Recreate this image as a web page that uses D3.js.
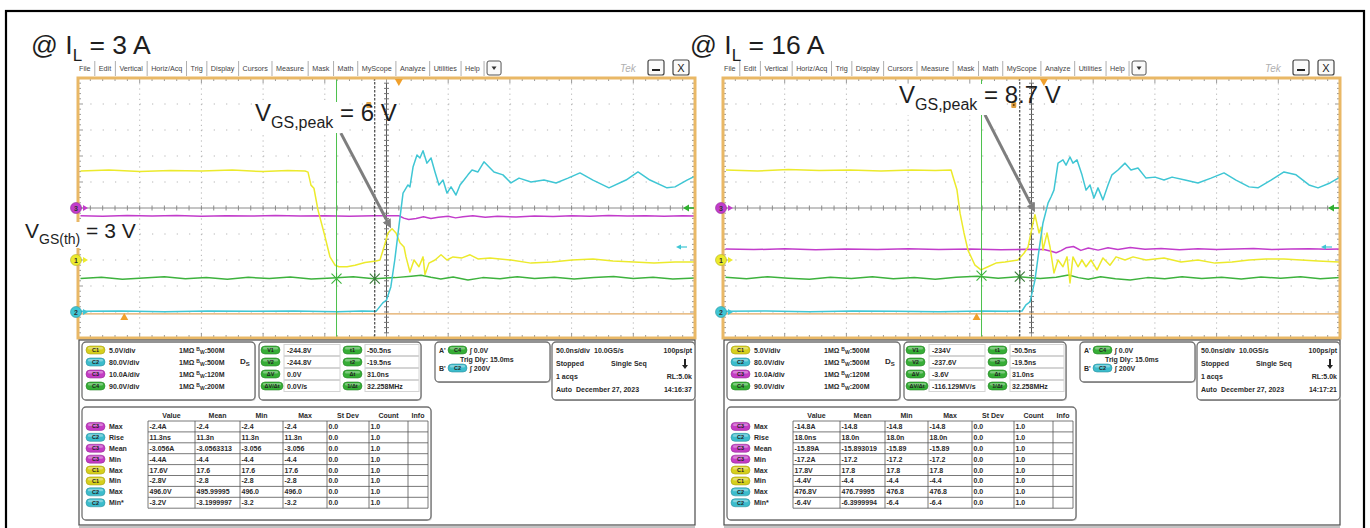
<!DOCTYPE html>
<html><head><meta charset="utf-8">
<script src="https://cdn.jsdelivr.net/npm/d3@7"></script>
<style>
body{margin:0;background:#fff;}
svg{display:block;font-family:"Liberation Sans",Arial,Helvetica,sans-serif;}
</style></head>
<body><svg id="c" width="1370" height="528"></svg>
<script>
// ================= DATA =================
const panelTitles = ["3 A", "16 A"];
const peakLabels = ["6 V", "8.7 V"];
const thresholdLabel = "3 V";
const menuItems = ["File","Edit","Vertical","Horiz/Acq","Trig","Display","Cursors","Measure","Mask","Math","MyScope","Analyze","Utilities","Help"];

const timeDomainNs = [-260, 240];          // 10 divisions x 50 ns/div
const channelNames = ["C1","C2","C3","C4"];
const channelScale = [5, 80, 10, 90];       // units per division
const channelOffsetDiv = [-2, -4, 0, 0];    // ground marker position (divisions from centre)
const channelVdiv = ["5.0V/div","80.0V/div","10.0A/div","90.0V/div"];
const channelBw = ["500M","500M","120M","200M"];

const cursorTimesNs = [-50.5, -19.5];
const cursorV1 = [-244.8, -234];
const cursorV2 = [-244.8, -237.6];
const trigPosNs = 0;
const bTrigMarkNs = [-222.5, -54.5];
const c2TrigLevel = 200;   // V
const c4TrigLevel = 0;     // V
const c2RefLevel = -6;     // V (orange reference line)
const peakArrowFrom = [[-47, 24.4], [-47.7, 27.9]];  // [ns, C1 volts]
const peakArrowTo = [[-6.4, 6.1], [-7.2, 9.2]];

// traces: [time ns, value]
const yellowL = [[-258,17.1],[-235,17.3],[-210,17.0],[-185,17.2],[-160,17.1],[-135,17.3],[-110,17.0],[-90,17.2],[-76,17.1],
 [-73.6,16.9],[-71.2,14.4],[-68.8,13.8],[-65.5,9.6],[-60.6,5.2],[-55.8,0.6],[-51.7,-1.0],[-48.5,-1.3],[-42,-1.3],[-35.5,-1.0],
 [-27.4,-0.5],[-18.5,-0.2],[-15.3,0],[-12,2.5],[-8.8,5.2],[-5.5,6.0],[-2.3,5.2],[0.9,3.3],[4.2,2.5],[5.8,0.6],[9,-2.3],[12.3,0],
 [16.3,-1.3],[19.6,0.6],[21.2,-2.8],[24.4,-0.6],[29.3,0],[34.2,1.0],[39,0],[43.9,0.6],[51.2,0.4],[57.7,1.0],[64.1,0.2],[73.9,0.4],
 [90.9,0],[107.1,-0.6],[124.1,-0.4],[140.3,0],[157.3,0.2],[173.5,-0.2],[190.6,-0.4],[206.8,-0.6],[223.8,-0.4],[240,-0.4]];
const cyanL = [[-258,2],[-225,3],[-190,1],[-155,3],[-120,2],[-85,3],[-50,1],[-30,3],[-18.5,2],[-13,28],[-10,37],[-6.5,77],
 [-3.3,160],[0,262],[3.4,366],[7.4,391],[9,385],[11.5,446],[14.7,483],[17.1,474],[19.6,496],[22.8,458],[26.1,474],[29.3,431],
 [32.5,391],[35.8,406],[39,366],[42.3,385],[46.3,360],[49.6,391],[52.8,406],[56,422],[59.3,437],[64.1,431],[69,462],[73.9,443],
 [77.1,431],[84.4,422],[90.9,397],[97.4,412],[107.1,400],[117.6,406],[127.4,397],[137.1,412],[146.8,428],[157.3,406],[170.3,382],
 [184.1,406],[193.8,431],[203.5,406],[217.3,382],[223.8,385],[233.5,406],[240,418]];
const magentaL = [[-258,-3.0],[-240,-3.2],[-220,-2.9],[-200,-3.1],[-180,-2.9],[-160,-3.2],[-140,-3.0],[-120,-3.1],[-100,-2.9],
 [-80,-3.1],[-60,-3.0],[-40,-3.2],[-20,-3.0],[0,-3.0],[4,-3.9],[8,-4.4],[14,-4.0],[20,-3.4],[26,-4.0],[32,-3.6],[40,-3.2],[46,-3.8],
 [52,-3.4],[60,-3.0],[70,-3.6],[80,-3.2],[95,-3.5],[110,-3.1],[125,-3.3],[140,-3.0],[155,-3.2],[170,-2.9],[185,-3.1],[200,-3.0],
 [215,-3.2],[230,-3.0],[240,-3.1]];
const greenL = [[-258,-244],[-241,-240],[-224,-247],[-207,-242],[-190,-238],[-173,-245],[-156,-241],[-139,-247],[-122,-240],
 [-105,-244],[-88,-239],[-71,-246],[-54,-242],[-37,-238],[-20,-245],[-3,-241],[10,-236],[18,-233],[26,-240],[34,-246],[44,-239],
 [56,-249],[68,-241],[82,-245],[96,-238],[110,-244],[126,-240],[142,-246],[158,-241],[174,-237],[190,-244],[206,-240],[222,-246],[240,-242]];

const yellowR = [[-257.6,17.3],[-232,17.1],[-207,17.4],[-182,17.2],[-157,17.3],[-132,17.1],[-107,17.3],[-88,17.2],[-75.2,17.3],
 [-73.6,16.0],[-70.4,13.5],[-67.9,9.0],[-64.7,5.2],[-61.5,1.9],[-55.8,-1.0],[-50.9,-1.9],[-45.3,-1.3],[-38.8,-0.6],[-31.5,-0.4],
 [-21,0],[-16.1,1.3],[-12.8,2.5],[-8.8,7.1],[-7.2,8.7],[-3.9,5.2],[-2.3,6.3],[-0.7,1.9],[2.6,5.2],[5,2.5],[8.2,-2.5],[11.5,0],
 [15.5,-1.3],[18.8,0.6],[21.2,-4.4],[23.6,0.6],[27.7,-1.3],[30.9,0],[34.2,-1.3],[38.2,0],[43.1,-1.9],[47.9,0.4],[53.6,-1.0],
 [58.5,0.6],[65.8,0],[72.3,0.6],[82.8,0],[97.4,0.4],[111.2,-0.4],[124.9,0],[138.7,-0.6],[152.5,-0.4],[166.3,0],[180,0.2],
 [194.6,0.2],[208.4,0],[222.2,-0.2],[239.2,-0.4]];
const cyanR = [[-257.6,2],[-225,3],[-190,1],[-155,3],[-120,2],[-85,1],[-50,3],[-30,2],[-17.7,3],[-14.5,22],[-11.2,31],[-7.2,98],
 [-3.9,191],[-0.7,274],[3.4,335],[5.8,354],[8.2,375],[11.5,458],[15.5,468],[18,452],[21.2,477],[23.6,458],[26.9,468],[30.9,422],
 [34.2,375],[37.4,391],[40.6,351],[43.9,382],[47.9,345],[52,391],[55.2,422],[60.1,437],[65.8,458],[70.6,437],[76.3,443],[82.8,412],
 [90.1,415],[97.4,406],[103.9,415],[114.4,406],[124.9,397],[135.5,412],[146,428],[155.7,406],[166.3,385],[173.5,382],[184.1,406],
 [194.6,431],[204.4,422],[214.9,391],[222.2,382],[231.9,397],[240,415]];
const magentaR = [[-258,-15.8],[-235,-16.0],[-210,-15.7],[-185,-16.1],[-160,-15.8],[-135,-16.0],[-110,-15.7],[-85,-16.0],[-60,-15.8],
 [-35,-16.1],[-15,-15.9],[0,-16.0],[6,-16.6],[10,-17.2],[14,-16.4],[18,-15.3],[24,-14.8],[30,-16.3],[36,-15.4],[44,-16.2],[52,-15.3],
 [60,-16.0],[70,-15.2],[82,-15.9],[95,-15.6],[110,-16.1],[125,-15.7],[140,-16.0],[155,-15.8],[170,-15.6],[185,-16.0],[200,-15.8],
 [215,-15.7],[230,-15.9],[240,-15.8]];
const greenR = [[-258,-240],[-241,-245],[-224,-238],[-207,-243],[-190,-247],[-173,-240],[-156,-244],[-139,-238],[-122,-245],
 [-105,-241],[-88,-247],[-71,-240],[-54,-236],[-37,-243],[-20,-238],[-3,-244],[10,-240],[20,-232],[28,-241],[36,-247],[46,-238],
 [58,-245],[70,-249],[84,-241],[98,-245],[112,-238],[128,-244],[144,-240],[160,-246],[176,-239],[192,-243],[208,-238],[224,-245],[240,-241]];

const cursorLabelsV = ["V1","V2","ΔV","ΔV/Δt"];
const cursorLabelsT = ["t1","t2","Δt","1/Δt"];
const cursorValsV = [["-244.8V","-244.8V","0.0V","0.0V/s"], ["-234V","-237.6V","-3.6V","-116.129MV/s"]];
const cursorValsT = [["-50.5ns","-19.5ns","31.0ns","32.258MHz"], ["-50.5ns","-19.5ns","31.0ns","32.258MHz"]];
const timestamps = ["14:16:37", "14:17:21"];

const measHeaders = ["Value","Mean","Min","Max","St Dev","Count","Info"];
const measRows = [["C3","Max"],["C2","Rise"],["C3","Mean"],["C3","Min"],["C1","Max"],["C1","Min"],["C2","Max"],["C2","Min*"]];
const measLeft = [
 ["-2.4A","-2.4","-2.4","-2.4","0.0","1.0",""],
 ["11.3ns","11.3n","11.3n","11.3n","0.0","1.0",""],
 ["-3.056A","-3.0563313","-3.056","-3.056","0.0","1.0",""],
 ["-4.4A","-4.4","-4.4","-4.4","0.0","1.0",""],
 ["17.6V","17.6","17.6","17.6","0.0","1.0",""],
 ["-2.8V","-2.8","-2.8","-2.8","0.0","1.0",""],
 ["496.0V","495.99995","496.0","496.0","0.0","1.0",""],
 ["-3.2V","-3.1999997","-3.2","-3.2","0.0","1.0",""]];
const measRight = [
 ["-14.8A","-14.8","-14.8","-14.8","0.0","1.0",""],
 ["18.0ns","18.0n","18.0n","18.0n","0.0","1.0",""],
 ["-15.89A","-15.893019","-15.89","-15.89","0.0","1.0",""],
 ["-17.2A","-17.2","-17.2","-17.2","0.0","1.0",""],
 ["17.8V","17.8","17.8","17.8","0.0","1.0",""],
 ["-4.4V","-4.4","-4.4","-4.4","0.0","1.0",""],
 ["476.8V","476.79995","476.8","476.8","0.0","1.0",""],
 ["-6.4V","-6.3999994","-6.4","-6.4","0.0","1.0",""]];

// ================= STYLE / LAYOUT =================
const COL = {C1:"#ecea2c", C2:"#3fc6d4", C3:"#c23ccb", C4:"#3db23d"};
const PILL = {C1:"#d6cf1c", C2:"#3cbccc", C3:"#c43cc4", C4:"#36ad36", V:"#36ad36"};
const ORANGE = "#e9b866";
const PX0 = 78, PX1 = 695, PY0 = 78, PY1 = 338;
const panelDx = [0, 645];
const titleX = [31, 690];
const peakTextPos = [[255, 121], [899, 103]];
const svg = d3.select("#c");

// outer frame
svg.append("rect").attr("x",6).attr("y",11).attr("width",1358).attr("height",540)
  .attr("fill","none").attr("stroke","#000").attr("stroke-width",2.2);

function pill(g, x, y, label, color, w) {
  w = w || 19; const h = 8;
  g.append("rect").attr("x",x).attr("y",y-h/2).attr("width",w).attr("height",h).attr("rx",h/2)
    .attr("fill",color).attr("stroke",d3.color(color).darker(0.7)).attr("stroke-width",0.6);
  g.append("rect").attr("x",x+2).attr("y",y-h/2+1).attr("width",w-4).attr("height",2.5).attr("rx",1.2)
    .attr("fill","#fff").attr("opacity",0.35);
  g.append("text").attr("x",x+w/2).attr("y",y+2).attr("text-anchor","middle").attr("font-size",5.5)
    .attr("font-weight","bold").attr("fill","#222").text(label);
}
function t(g, x, y, s, size, opts) {
  opts = opts || {};
  return g.append("text").attr("x",x).attr("y",y).attr("font-size",size||7)
    .attr("font-weight",opts.w||"bold").attr("fill",opts.fill||"#2a2a2a")
    .attr("text-anchor",opts.anchor||"start").text(s);
}
function box(g, x, y, w, h) {
  g.append("rect").attr("x",x+1).attr("y",y+1).attr("width",w).attr("height",h).attr("rx",4).attr("fill","#cfcfcf");
  g.append("rect").attr("x",x).attr("y",y).attr("width",w).attr("height",h).attr("rx",4)
    .attr("fill","#fff").attr("stroke","#707070").attr("stroke-width",1.3);
}

function drawPanel(i) {
  const dx = panelDx[i];
  const g = svg.append("g");
  const x = d3.scaleLinear().domain(timeDomainNs).range([PX0+dx, PX1+dx]);
  const yDiv = d3.scaleLinear().domain([-5,5]).range([PY1, PY0]);
  const yCh = c => v => yDiv(v/channelScale[c] + channelOffsetDiv[c]);
  const W = PX1-PX0, H = PY1-PY0;
  const xl = PX0+dx, xr = PX1+dx;

  // ---- title ----
  const tt = svg.append("text").attr("x",titleX[i]).attr("y",54).attr("font-size",26.5).attr("fill","#1e1e1e");
  tt.append("tspan").text("@ I");
  tt.append("tspan").attr("font-size",17).attr("dy",7).text("L");
  tt.append("tspan").attr("dy",-7).text(" = " + panelTitles[i]);

  // ---- menu bar ----
  let mx = xl - 3;
  menuItems.forEach((m, k) => {
    const tx = g.append("text").attr("x",mx+4).attr("y",71).attr("font-size",7.2).attr("fill","#444").text(m);
    const w = tx.node().getComputedTextLength();
    mx += w + 8.2;
    g.append("line").attr("x1",mx).attr("x2",mx).attr("y1",61).attr("y2",76).attr("stroke","#999").attr("stroke-width",0.8);
  });
  g.append("rect").attr("x",mx+3).attr("y",61).attr("width",14).attr("height",14).attr("rx",2)
    .attr("fill","#fafafa").attr("stroke","#555").attr("stroke-width",1);
  g.append("path").attr("d",`M${mx+7.5},66.5 L${mx+12.5},66.5 L${mx+10},70 Z`).attr("fill","#333");
  t(g, 620+dx, 72, "Tek", 10, {w:"normal", fill:"#b0b0b0"}).attr("font-style","italic");
  g.append("rect").attr("x",648+dx).attr("y",60).attr("width",16).attr("height",15).attr("rx",2)
    .attr("fill","#fafafa").attr("stroke","#444").attr("stroke-width",1.2);
  g.append("line").attr("x1",652+dx).attr("x2",660+dx).attr("y1",70).attr("y2",70).attr("stroke","#222").attr("stroke-width",2);
  g.append("rect").attr("x",673+dx).attr("y",60).attr("width",16).attr("height",15).attr("rx",2)
    .attr("fill","#fafafa").attr("stroke","#444").attr("stroke-width",1.2);
  t(g, 681+dx, 72, "X", 11, {w:"normal", anchor:"middle", fill:"#222"});

  // ---- graticule ----
  const gr = g.append("g");
  for (let k = 1; k < 10; k++) {
    if (k === 5) continue;
    gr.append("line").attr("x1",xl+k*W/10).attr("x2",xl+k*W/10).attr("y1",PY0).attr("y2",PY1)
      .attr("stroke","#b4b4b4").attr("stroke-dasharray","1.2,4").attr("stroke-width",1);
    gr.append("line").attr("x1",xl).attr("x2",xr).attr("y1",PY0+k*H/10).attr("y2",PY0+k*H/10)
      .attr("stroke","#b4b4b4").attr("stroke-dasharray","1.2,11.14").attr("stroke-width",1);
  }
  const cy = PY0+H/2, cx = xl+W/2;
  gr.append("line").attr("x1",xl).attr("x2",xr).attr("y1",cy).attr("y2",cy).attr("stroke","#8a8a8a").attr("stroke-width",1);
  gr.append("line").attr("x1",cx).attr("x2",cx).attr("y1",PY0).attr("y2",PY1).attr("stroke","#555").attr("stroke-width",1);
  for (let k = 1; k < 50; k++) {
    const xx = xl + k*W/50, yy = PY0 + k*H/50;
    gr.append("line").attr("x1",xx).attr("x2",xx).attr("y1",cy-2.5).attr("y2",cy+2.5).attr("stroke","#8a8a8a");
    gr.append("line").attr("x1",cx-2.5).attr("x2",cx+2.5).attr("y1",yy).attr("y2",yy).attr("stroke","#777");
    gr.append("line").attr("x1",xx).attr("x2",xx).attr("y1",PY0).attr("y2",PY0+(k%5?3:5)).attr("stroke","#999");
    gr.append("line").attr("x1",xx).attr("x2",xx).attr("y1",PY1).attr("y2",PY1-(k%5?3:5)).attr("stroke","#999");
    gr.append("line").attr("x1",xl).attr("x2",xl+(k%5?3:5)).attr("y1",yy).attr("y2",yy).attr("stroke","#999");
    gr.append("line").attr("x1",xr).attr("x2",xr-(k%5?3:5)).attr("y1",yy).attr("y2",yy).attr("stroke","#999");
  }

  // ---- clip ----
  const cid = "clip"+i;
  svg.append("clipPath").attr("id",cid).append("rect").attr("x",xl).attr("y",PY0).attr("width",W).attr("height",H);
  const tr = g.append("g").attr("clip-path",`url(#${cid})`);

  // orange reference line
  tr.append("line").attr("x1",xl).attr("x2",xr).attr("y1",yCh(1)(c2RefLevel)).attr("y2",yCh(1)(c2RefLevel))
    .attr("stroke","#e2a860").attr("stroke-width",1.2);

  const traces = i === 0
    ? [[greenL,3],[magentaL,2],[yellowL,0],[cyanL,1]]
    : [[greenR,3],[magentaR,2],[yellowR,0],[cyanR,1]];
  traces.forEach(([data, c]) => {
    const line = d3.line().x(d => x(d[0])).y(d => yCh(c)(d[1]));
    tr.append("path").attr("d",line(data)).attr("fill","none").attr("stroke",COL[channelNames[c]])
      .attr("stroke-width",1.5).attr("stroke-linejoin","round");
  });

  // cursors
  tr.append("line").attr("x1",x(cursorTimesNs[0])).attr("x2",x(cursorTimesNs[0])).attr("y1",PY0).attr("y2",PY1)
    .attr("stroke","#4cc04c").attr("stroke-width",1);
  tr.append("line").attr("x1",x(cursorTimesNs[1])).attr("x2",x(cursorTimesNs[1])).attr("y1",PY0).attr("y2",PY1)
    .attr("stroke","#222").attr("stroke-width",1).attr("stroke-dasharray","2.5,1.5");
  [[cursorTimesNs[0], cursorV1[i], "#3cb43c"], [cursorTimesNs[1], cursorV2[i], "#3a7a3a"]].forEach(([tt2, v, col]) => {
    const px = x(tt2), py = yCh(3)(v);
    tr.append("path").attr("d",`M${px-5},${py-5}L${px+5},${py+5}M${px-5},${py+5}L${px+5},${py-5}M${px},${py-6}L${px},${py+6}`)
      .attr("stroke",col).attr("stroke-width",1.1);
  });

  // frame
  g.append("rect").attr("x",xl).attr("y",PY0).attr("width",W).attr("height",H).attr("fill","none")
    .attr("stroke",ORANGE).attr("stroke-width",3);

  // trigger position ▼
  const tp = x(trigPosNs);
  g.append("path").attr("d",`M${tp-4},${PY0+1}L${tp+4},${PY0+1}L${tp},${PY0+8}Z`).attr("fill","#f0a02c");
  // B trigger mark ▲
  const bp = x(bTrigMarkNs[i]);
  g.append("path").attr("d",`M${bp-4},320L${bp+4},320L${bp},313Z`).attr("fill","#f0a02c");
  // cursor handles a / b
  cursorTimesNs.forEach((ct, k) => {
    const hx = x(ct) - 6;
    g.append("rect").attr("x",hx-2.5).attr("y",102).attr("width",5).attr("height",6).attr("rx",1).attr("fill","#e0a040");
    g.append("circle").attr("cx",hx).attr("cy",105).attr("r",1).attr("fill","#6a4010");
  });

  // channel ground markers (left)
  [[2,"3"],[0,"1"],[1,"2"]].forEach(([c, lab]) => {
    const yy = yCh(c)(0), col = COL[channelNames[c]];
    g.append("path").attr("d",`M${xl+5},${yy-3}L${xl+10},${yy}L${xl+5},${yy+3}Z`).attr("fill",col);
    g.append("circle").attr("cx",xl-2).attr("cy",yy).attr("r",5.5).attr("fill",col).attr("stroke",d3.color(col).darker(0.8)).attr("stroke-width",0.6);
    t(g, xl-2, yy+2.5, lab, 7, {anchor:"middle", fill:"#333"});
  });
  // trigger level markers (right)
  const gy = yCh(3)(c4TrigLevel);
  g.append("path").attr("d",`M${xr-12},${gy}L${xr-6},${gy-3.5}L${xr-6},${gy+3.5}Z`).attr("fill","#2fb02f");
  g.append("line").attr("x1",xr-6).attr("x2",xr-1).attr("y1",gy).attr("y2",gy).attr("stroke","#2fb02f").attr("stroke-width",1.5);
  const cyy = yCh(1)(c2TrigLevel);
  g.append("path").attr("d",`M${xr-19},${cyy}L${xr-14},${cyy-2.5}L${xr-14},${cyy+2.5}Z`).attr("fill","#3fc6d4");
  g.append("line").attr("x1",xr-14).attr("x2",xr-8).attr("y1",cyy).attr("y2",cyy).attr("stroke","#3fc6d4").attr("stroke-width",1.2);

  // annotation arrow
  const a0 = [x(peakArrowFrom[i][0]), yCh(0)(peakArrowFrom[i][1])];
  const a1 = [x(peakArrowTo[i][0]), yCh(0)(peakArrowTo[i][1])];
  const ang = Math.atan2(a1[1]-a0[1], a1[0]-a0[0]);
  const hb = [a1[0]-9*Math.cos(ang), a1[1]-9*Math.sin(ang)];
  g.append("line").attr("x1",a0[0]).attr("y1",a0[1]).attr("x2",hb[0]).attr("y2",hb[1]).attr("stroke","#7e7e7e").attr("stroke-width",3);
  const px = -Math.sin(ang)*4.5, py = Math.cos(ang)*4.5;
  g.append("path").attr("d",`M${a1[0]},${a1[1]}L${hb[0]+px},${hb[1]+py}L${hb[0]-px},${hb[1]-py}Z`).attr("fill","#7e7e7e");

  // peak label
  const [lx, ly] = peakTextPos[i];
  const lbg = g.append("rect").attr("fill","#fff");
  const lt = g.append("text").attr("x",lx).attr("y",ly).attr("font-size",24).attr("fill","#1e1e1e");
  lt.append("tspan").text("V");
  lt.append("tspan").attr("font-size",16).attr("dy",7).text("GS,peak");
  lt.append("tspan").attr("dy",-7).text(" = " + peakLabels[i]);
  const bb = lt.node().getBBox();
  lbg.attr("x",bb.x).attr("y",bb.y+3).attr("width",bb.width*0.62).attr("height",bb.height-1);

  if (i === 0) {
    const tbg = g.append("rect").attr("fill","#fff");
    const th = g.append("text").attr("x",25).attr("y",238).attr("font-size",21).attr("fill","#1e1e1e");
    th.append("tspan").text("V");
    th.append("tspan").attr("font-size",14).attr("dy",6).text("GS(th)");
    th.append("tspan").attr("dy",-6).text(" = " + thresholdLabel);
    const b2 = th.node().getBBox();
    tbg.attr("x",b2.x).attr("y",b2.y+3).attr("width",b2.width).attr("height",b2.height-2);
  }

  // ---- info area ----
  const ig = g.append("g");
  ig.append("rect").attr("x",xl+1).attr("y",340).attr("width",W-1).attr("height",185).attr("fill","#fff")
    .attr("stroke","#4a4a4a").attr("stroke-width",1.2);
  ig.append("line").attr("x1",xl+1).attr("x2",xr).attr("y1",527).attr("y2",527).attr("stroke","#888");

  // channel box
  box(ig, 82+dx, 342, 173, 58);
  channelNames.forEach((c, k) => {
    const yy = 350 + k*12;
    pill(ig, 86+dx, yy, c, PILL[c]);
    t(ig, 109+dx, yy+2.5, channelVdiv[k], 7);
    const bw = t(ig, 179+dx, yy+2.5, "1MΩ ", 7);
    bw.append("tspan").attr("font-size",5).attr("dy",-2).text("B");
    bw.append("tspan").attr("font-size",5).attr("dy",3).text("W");
    bw.append("tspan").attr("dy",-1).text(":" + channelBw[k]);
  });
  const ds = t(ig, 240+dx, 364, "D", 8);
  ds.append("tspan").attr("font-size",6).attr("dy",2).text("S");

  // cursor box
  box(ig, 259+dx, 342, 162, 58);
  for (let k = 0; k < 4; k++) {
    const yy = 350 + k*12;
    ig.append("rect").attr("x",284+dx).attr("y",yy-5.5).attr("width",56).attr("height",11).attr("fill","#fff").attr("stroke","#d4d4d4");
    ig.append("rect").attr("x",365+dx).attr("y",yy-5.5).attr("width",54).attr("height",11).attr("fill","#fff").attr("stroke","#d4d4d4");
    pill(ig, 261+dx, yy, cursorLabelsV[k], PILL.V, k===3?22:19);
    pill(ig, 343+dx, yy, cursorLabelsT[k], PILL.V);
    t(ig, 287+dx, yy+2.5, cursorValsV[i][k], 7);
    t(ig, 367+dx, yy+2.5, cursorValsT[i][k], 7);
  }

  // trigger box
  box(ig, 435+dx, 342, 115, 40);
  t(ig, 439+dx, 352.5, "A'", 7);
  pill(ig, 448+dx, 350, "C4", PILL.C4);
  t(ig, 470+dx, 352.5, "∫ 0.0V", 7);
  t(ig, 460+dx, 361.5, "Trig Dly: 15.0ms", 7);
  t(ig, 439+dx, 370.5, "B'", 7);
  pill(ig, 448+dx, 368, "C2", PILL.C2);
  t(ig, 470+dx, 370.5, "∫ 200V", 7);

  // timebase box
  box(ig, 552+dx, 342, 143, 58);
  t(ig, 556+dx, 352.5, "50.0ns/div", 7);
  t(ig, 594+dx, 352.5, "10.0GS/s", 7);
  t(ig, 692+dx, 352.5, "100ps/pt", 7, {anchor:"end"});
  t(ig, 556+dx, 366, "Stopped", 7);
  t(ig, 611+dx, 366, "Single Seq", 7);
  ig.append("line").attr("x1",685+dx).attr("x2",685+dx).attr("y1",359).attr("y2",366).attr("stroke","#222").attr("stroke-width",2);
  ig.append("path").attr("d",`M${682+dx},365L${688+dx},365L${685+dx},369Z`).attr("fill","#222");
  t(ig, 556+dx, 379, "1 acqs", 7);
  t(ig, 692+dx, 379, "RL:5.0k", 7, {anchor:"end"});
  t(ig, 556+dx, 391.5, "Auto", 7);
  t(ig, 576+dx, 391.5, "December 27, 2023", 7);
  t(ig, 692+dx, 391.5, timestamps[i], 7, {anchor:"end"});

  // measurement table
  box(ig, 82+dx, 407, 349, 113);
  const colX = [148,195,240,283,327,369,408,428];
  const rowY0 = 421, rowH = 10.9;
  measHeaders.forEach((h, k) => t(ig, (colX[k]+colX[k+1])/2+dx, 417.5, h, 7, {anchor:"middle"}));
  for (let r = 0; r <= measRows.length; r++) {
    ig.append("line").attr("x1",colX[0]+dx).attr("x2",colX[7]+dx).attr("y1",rowY0+r*rowH).attr("y2",rowY0+r*rowH)
      .attr("stroke","#555").attr("stroke-width",0.8);
  }
  colX.forEach(cx2 => ig.append("line").attr("x1",cx2+dx).attr("x2",cx2+dx).attr("y1",rowY0).attr("y2",rowY0+measRows.length*rowH)
      .attr("stroke","#555").attr("stroke-width",0.8));
  const vals = i === 0 ? measLeft : measRight;
  measRows.forEach(([c, name], r) => {
    const yy = rowY0 + r*rowH + rowH/2;
    pill(ig, 86+dx, yy, c, PILL[c]);
    t(ig, 109+dx, yy+2.5, name, 7);
    vals[r].forEach((v, k) => t(ig, colX[k]+1.5+dx, yy+2.5, v, 7));
  });
}

drawPanel(0);
drawPanel(1);
</script>
</body></html>
